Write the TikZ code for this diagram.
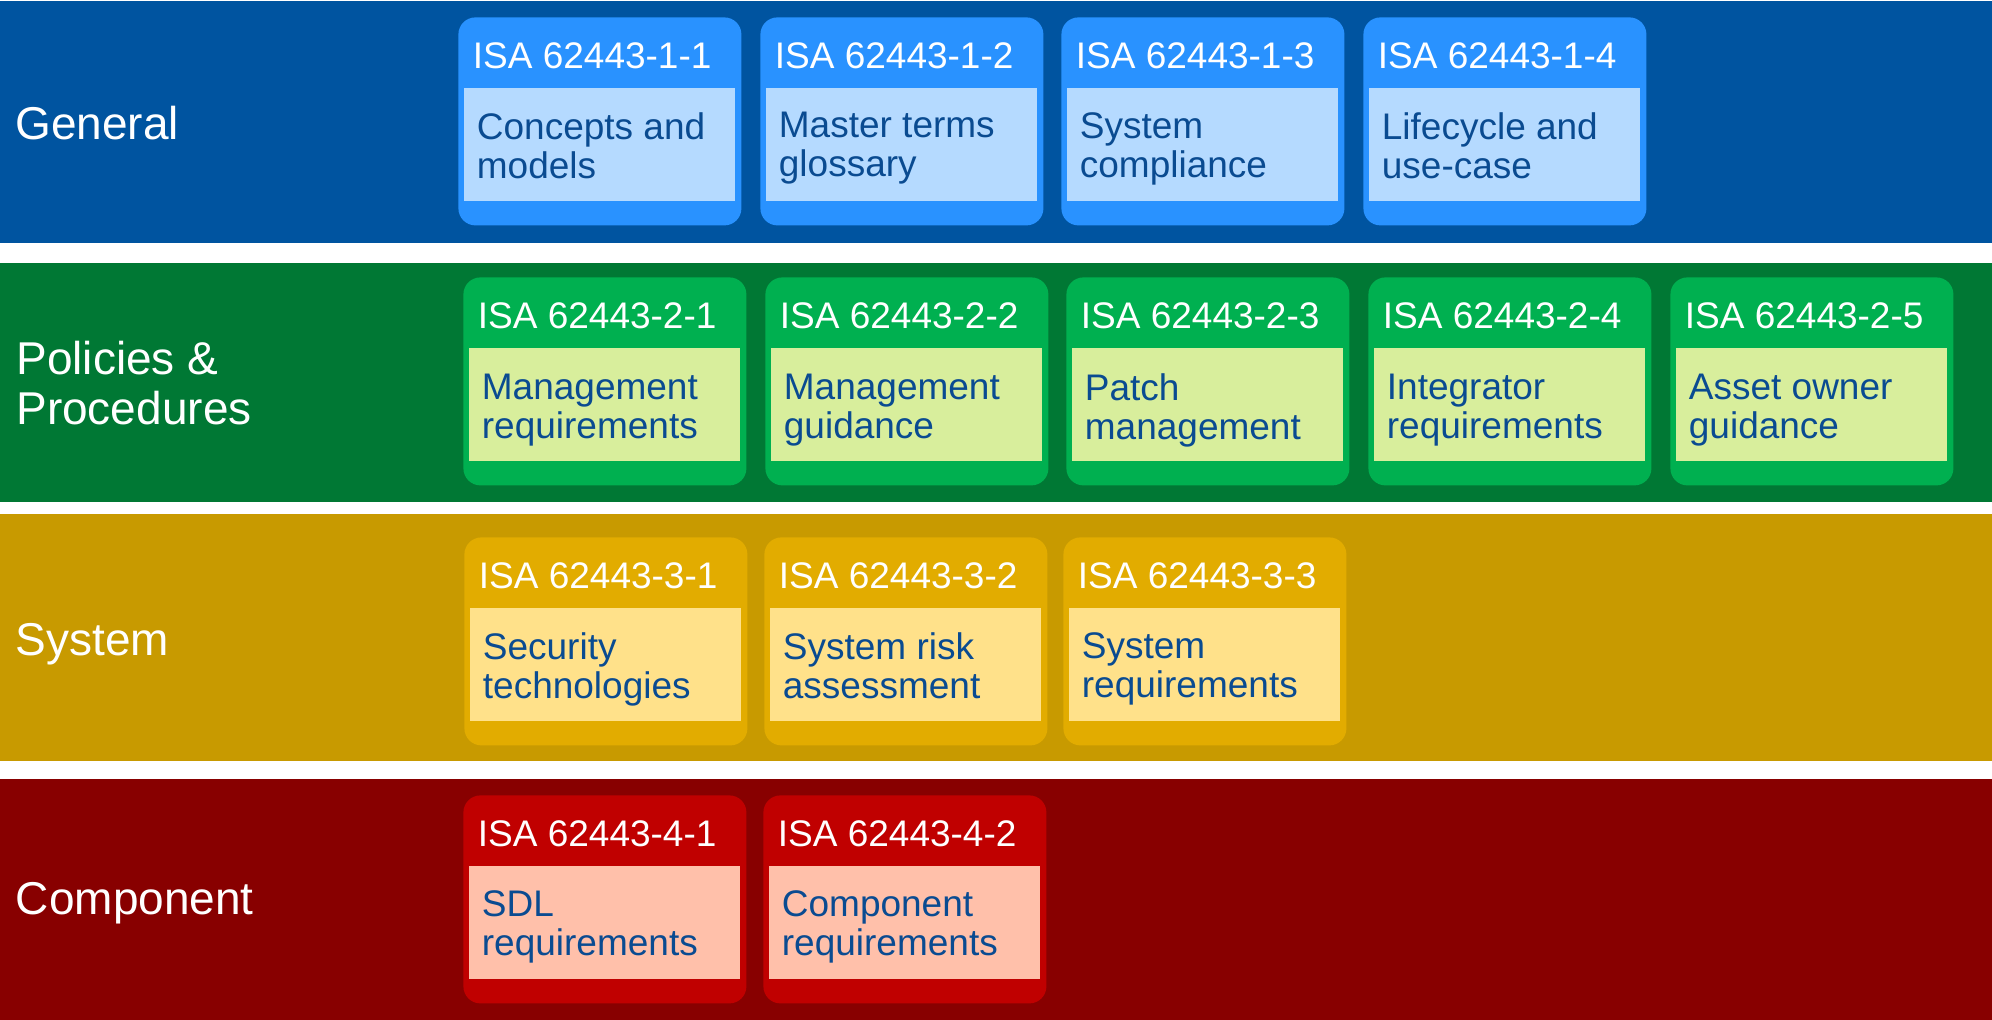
\documentclass[tikz,border=0pt]{standalone}
\usepackage{fontspec}
\setmainfont{Liberation Sans}

\definecolor{genband}{RGB}{0,84,160}
\definecolor{genbox}{RGB}{41,146,255}
\definecolor{genfill}{RGB}{181,218,255}
\definecolor{polband}{RGB}{0,120,52}
\definecolor{polbox}{RGB}{0,176,80}
\definecolor{polfill}{RGB}{216,238,156}
\definecolor{sysband}{RGB}{200,154,0}
\definecolor{sysbox}{RGB}{226,172,0}
\definecolor{sysfill}{RGB}{255,225,138}
\definecolor{comband}{RGB}{136,0,0}
\definecolor{combox}{RGB}{192,0,0}
\definecolor{comfill}{RGB}{255,192,170}
\definecolor{stdtext}{RGB}{10,75,145}

\begin{document}
\begin{tikzpicture}[x=0.5pt,y=-0.5pt,
    layer/.style={anchor=north west,inner sep=0,text=white,align=left,
      font=\fontsize{23}{25}\selectfont},
    part/.style={anchor=north west,inner sep=0,minimum width=141.5pt,
      minimum height=104pt,rounded corners=8.5pt,fill=#1},
    panel/.style={anchor=north west,inner sep=0,minimum width=135.5pt,
      minimum height=56.5pt,fill=#1},
    title/.style={anchor=north west,inner sep=0,text=white,
      font=\fontsize{18.5}{19.5}\selectfont},
    desc/.style={anchor=north west,inner sep=0,text=stdtext,align=left,
      font=\fontsize{18.5}{19.5}\selectfont}]

  \useasboundingbox (0,0) rectangle (1992,1020);

  % layers
  \fill[genband] (0,1.5) rectangle (1992,243);
  \fill[polband] (0,263) rectangle (1992,502);
  \fill[sysband] (0,514) rectangle (1992,761);
  \fill[comband] (0,779) rectangle (1992,1020);

  \node[layer] (gen) at (15,105.5) {General};
  \node[layer] (pol) at (16,340.5) {Policies \&\\Procedures};
  \node[layer] (sys) at (15.5,623) {System};
  \node[layer] (com) at (15.5,881.5) {Component};

  % general
  \node[part=genbox]  (11)  at (458,17) {};
  \node[panel=genfill] (11b) at (464,88) {};
  \node[title] (11h) at (472.5,42.5) {ISA 62443-1-1};
  \node[desc]  (11t) at (476.5,112) {Concepts and\\models};

  \node[part=genbox]  (12)  at (760,17) {};
  \node[panel=genfill] (12b) at (766,88) {};
  \node[title] (12h) at (774.5,42.5) {ISA 62443-1-2};
  \node[desc]  (12t) at (778.5,112) {Master terms\\glossary};

  \node[part=genbox]  (13)  at (1061,17) {};
  \node[panel=genfill] (13b) at (1067,88) {};
  \node[title] (13h) at (1075.5,42.5) {ISA 62443-1-3};
  \node[desc]  (13t) at (1079.5,112) {System\\compliance};

  \node[part=genbox]  (14)  at (1363,17) {};
  \node[panel=genfill] (14b) at (1369,88) {};
  \node[title] (14h) at (1377.5,42.5) {ISA 62443-1-4};
  \node[desc]  (14t) at (1381.5,112) {Lifecycle and\\use-case};

  % policies and procedures
  \node[part=polbox]  (21)  at (463,277) {};
  \node[panel=polfill] (21b) at (469,348) {};
  \node[title] (21h) at (477.5,302.5) {ISA 62443-2-1};
  \node[desc]  (21t) at (481.5,374) {Management\\requirements};

  \node[part=polbox]  (22)  at (765,277) {};
  \node[panel=polfill] (22b) at (771,348) {};
  \node[title] (22h) at (779.5,302.5) {ISA 62443-2-2};
  \node[desc]  (22t) at (783.5,374) {Management\\guidance};

  \node[part=polbox]  (23)  at (1066,277) {};
  \node[panel=polfill] (23b) at (1072,348) {};
  \node[title] (23h) at (1080.5,302.5) {ISA 62443-2-3};
  \node[desc]  (23t) at (1084.5,373) {Patch\\management};

  \node[part=polbox]  (24)  at (1368,277) {};
  \node[panel=polfill] (24b) at (1374,348) {};
  \node[title] (24h) at (1382.5,302.5) {ISA 62443-2-4};
  \node[desc]  (24t) at (1386.5,374) {Integrator\\requirements};

  \node[part=polbox]  (25)  at (1670,277) {};
  \node[panel=polfill] (25b) at (1676,348) {};
  \node[title] (25h) at (1684.5,302.5) {ISA 62443-2-5};
  \node[desc]  (25t) at (1688.5,374) {Asset owner\\guidance};

  % system
  \node[part=sysbox]  (31)  at (464,537) {};
  \node[panel=sysfill] (31b) at (470,608) {};
  \node[title] (31h) at (478.5,562.5) {ISA 62443-3-1};
  \node[desc]  (31t) at (482.5,632) {Security\\technologies};

  \node[part=sysbox]  (32)  at (764,537) {};
  \node[panel=sysfill] (32b) at (770,608) {};
  \node[title] (32h) at (778.5,562.5) {ISA 62443-3-2};
  \node[desc]  (32t) at (782.5,632) {System risk\\assessment};

  \node[part=sysbox]  (33)  at (1063,537) {};
  \node[panel=sysfill] (33b) at (1069,608) {};
  \node[title] (33h) at (1077.5,562.5) {ISA 62443-3-3};
  \node[desc]  (33t) at (1081.5,632) {System\\requirements};

  % component
  \node[part=combox]  (41)  at (463,795) {};
  \node[panel=comfill] (41b) at (469,866) {};
  \node[title] (41h) at (477.5,820.5) {ISA 62443-4-1};
  \node[desc]  (41t) at (481.5,890) {SDL\\requirements};

  \node[part=combox]  (42)  at (763,795) {};
  \node[panel=comfill] (42b) at (769,866) {};
  \node[title] (42h) at (777.5,820.5) {ISA 62443-4-2};
  \node[desc]  (42t) at (781.5,890) {Component\\requirements};

\end{tikzpicture}
\end{document}
